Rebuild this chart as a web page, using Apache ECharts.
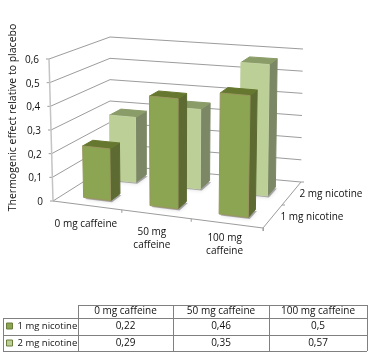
<!DOCTYPE html>
<html>
<head>
<meta charset="utf-8">
<style>
  html, body { margin: 0; padding: 0; background: #fff; }
  #chart { width: 368px; height: 356px; }
</style>
<script src="https://cdn.jsdelivr.net/npm/echarts@6/dist/echarts.min.js"></script>
</head>
<body>
<div id="chart"></div>
<script>
var categories = ['0 mg caffeine', '50 mg caffeine', '100 mg caffeine']
var axisCategories = ['0 mg caffeine', '50 mg\ncaffeine', '100 mg\ncaffeine']
var depthNames = ['1 mg nicotine', '2 mg nicotine']
var nicotine1 = [0.22, 0.46, 0.5]
var nicotine2 = [0.29, 0.35, 0.57]
var yTicks = [0, 0.1, 0.2, 0.3, 0.4, 0.5, 0.6]
var yTitle = 'Thermogenic effect relative to placebo'

var FONT = 'Open Sans'
var FONT_SIZE = 10
var GRID = { left: 53, top: 59, width: 210, height: 142 }
var GRID_COLOR = '#9c9c9c'

// floor corners of the 3d box on screen: front left, front right, back right, back left
var FLOOR = [[53, 201], [263, 228], [301, 182], [110, 165]]
// screen vector of the full value axis at those same corners
var UP = [[-4, -142], [3, -150], [2, -133], [0, -128]]

var STYLES = [
  { front: '#8ca552', side: '#5d6b33', top: '#66782f', edge: '#9a9660' },
  { front: '#bbcf96', side: '#7c8865', top: '#8a9c68', edge: '#c3d2a2' }
]
var V_RANGE = [[0.17, 0.35], [0.65, 0.85]]
var BAR_WIDTH = 0.41 // of the category band

function blend(c, u, v, k) {
  var a = 1 - u
  var b = 1 - v
  return a * b * c[0][k] + u * b * c[1][k] + u * v * c[2][k] + a * v * c[3][k]
}

// u, v on the floor, h = 0..1 up the value axis
function project(u, v, h) {
  // slight perspective along the category direction
  var w = u - 0.06 * u * (1 - u)
  return [
    blend(FLOOR, w, v, 0) + blend(UP, w, v, 0) * h,
    blend(FLOOR, w, v, 1) + blend(UP, w, v, 1) * h
  ]
}

// axis value -> 0..1 height, via the (hidden) cartesian axes
function heightOf(api, val) {
  return (GRID.top + GRID.height - api.coord([0, val])[1]) / GRID.height
}

function poly(points, fill, stroke) {
  return {
    type: 'polygon',
    shape: { points: points },
    style: { fill: fill, stroke: stroke || fill, lineWidth: 1 }
  }
}

function line(a, b, color, width) {
  return {
    type: 'line',
    shape: { x1: a[0], y1: a[1], x2: b[0], y2: b[1] },
    style: { stroke: color || GRID_COLOR, lineWidth: width || 1 }
  }
}

function label(text, p, align, verticalAlign) {
  return {
    type: 'text',
    style: {
      x: p[0], y: p[1], text: text, fill: '#111', font: FONT_SIZE + 'px ' + FONT,
      align: align, verticalAlign: verticalAlign || 'middle', lineHeight: 13
    }
  }
}

function barRenderer(depth) {
  return function(params, api) {
    var c = api.coord([api.value(0), 0])
    var half = api.size([1, 0])[0] / GRID.width * BAR_WIDTH / 2
    var u = (c[0] - GRID.left) / GRID.width
    var h = heightOf(api, api.value(1))
    var u0 = u - half
    var u1 = u + half
    var v0 = V_RANGE[depth][0]
    var v1 = V_RANGE[depth][1]
    var s = STYLES[depth]
    var base = [project(u0, v0, 0), project(u1, v0, 0), project(u1, v1, 0), project(u0, v1, 0)]
    var shadow = poly(base.map(function(p) { return [p[0] + 1.5, p[1] + 1.5] }), 'rgba(0,0,0,0.3)')
    shadow.style.stroke = null
    shadow.style.shadowBlur = 4
    shadow.style.shadowColor = 'rgba(0,0,0,0.45)'
    return {
      type: 'group',
      children: [
        shadow,
        poly([project(u1, v0, 0), project(u1, v1, 0), project(u1, v1, h), project(u1, v0, h)], s.side),
        poly([project(u0, v0, h), project(u1, v0, h), project(u1, v1, h), project(u0, v1, h)], s.top),
        poly([project(u0, v0, 0), project(u1, v0, 0), project(u1, v0, h), project(u0, v0, h)], s.front, s.edge)
      ]
    }
  }
}

// walls: one value gridline per tick, with its label
function renderWall(params, api) {
  var val = api.value(1)
  var h = heightOf(api, val)
  var a = project(0, 0, h)
  var b = project(0, 1, h)
  var c = project(1, 1, h)
  return {
    type: 'group',
    children: [
      line(a, b), line(b, c),
      line(a, [a[0] - 3, a[1]]),
      label(String(val).replace('.', ','), [a[0] - 10, a[1] + 1], 'right')
    ]
  }
}

// floor edges, category ticks and labels
function renderCategory(params, api) {
  var i = api.value(0)
  var u = (api.coord([i, 0])[0] - GRID.left) / GRID.width
  var edge = project(u + 1 / 6, 0, 0)
  var text = project(u, 0, 0)
  return {
    type: 'group',
    children: [
      line(edge, [edge[0], edge[1] + 3]),
      label(axisCategories[i], [text[0] + [-2, -4, -2][i], text[1] + [12, 11, 8][i]], 'center', 'top')
    ]
  }
}

function renderDepth(params, api) {
  var i = api.value(0)
  var tick = project(1, (i + 1) / depthNames.length, 0)
  var text = project(1, (i + 0.5) / depthNames.length, 0)
  return {
    type: 'group',
    children: [
      line(tick, [tick[0] + 3, tick[1]]),
      label(depthNames[i], [text[0] + 8, text[1] + 1], 'left')
    ]
  }
}

function renderFrame() {
  return {
    type: 'group',
    children: [
      line(project(0, 0, 0), project(0, 0, 1), '#c4c4c4', 1.5),
      line(project(0, 0, 0), project(1, 0, 0)),
      line(project(1, 0, 0), project(1, 1, 0)),
      line(project(1, 0, 0), [project(1, 0, 0)[0], project(1, 0, 0)[1] + 3])
    ]
  }
}

function barData(values) {
  return values.map(function(v, i) { return [i, v] })
}

function customSeries(name, data, renderItem, z) {
  return {
    type: 'custom', name: name, data: data, renderItem: renderItem, z: z,
    silent: true, clip: false, animation: false,
    encode: { x: 0, y: 1 }
  }
}

// data table below the chart
var COL_X = [78, 173, 269, 367]
var ROW_Y = [305, 318, 335, 351]
var TABLE_LEFT = 3
var TABLE_LINE = '#808080'

function tableGraphic() {
  var out = []
  function hline(x1, x2, y) {
    out.push({ type: 'line', shape: { x1: x1, y1: y, x2: x2, y2: y }, style: { stroke: TABLE_LINE, lineWidth: 1 } })
  }
  function vline(x, y1, y2) {
    out.push({ type: 'line', shape: { x1: x, y1: y1, x2: x, y2: y2 }, style: { stroke: TABLE_LINE, lineWidth: 1 } })
  }
  function cell(text, col, row) {
    out.push({
      type: 'text',
      style: {
        x: (COL_X[col] + COL_X[col + 1]) / 2, y: (ROW_Y[row] + ROW_Y[row + 1]) / 2,
        text: text, fill: '#111', font: FONT_SIZE + 'px ' + FONT, align: 'center', verticalAlign: 'middle'
      }
    })
  }
  hline(COL_X[0], COL_X[3], ROW_Y[0] + 0.5)
  hline(TABLE_LEFT, COL_X[3], ROW_Y[1] + 0.5)
  hline(TABLE_LEFT, COL_X[3], ROW_Y[2] + 0.5)
  hline(TABLE_LEFT, COL_X[3], ROW_Y[3] + 0.5)
  vline(TABLE_LEFT + 0.5, ROW_Y[1], ROW_Y[3])
  COL_X.forEach(function(x) { vline(x + 0.5, ROW_Y[0], ROW_Y[3]) })
  categories.forEach(function(c, j) {
    cell(c, j, 0)
    cell(String(nicotine1[j]).replace('.', ','), j, 1)
    cell(String(nicotine2[j]).replace('.', ','), j, 2)
  })
  return out
}

var chart = echarts.init(document.getElementById('chart'), null, { renderer: 'canvas' })

chart.setOption({
  animation: false,
  backgroundColor: '#fff',
  textStyle: { fontFamily: FONT },
  grid: GRID,
  xAxis: { type: 'category', data: categories, show: false },
  yAxis: {
    type: 'value', min: 0, max: 0.6, interval: 0.1,
    name: yTitle, nameLocation: 'middle', nameRotate: 90, nameGap: 36,
    nameTextStyle: { fontFamily: FONT, fontSize: 10.5, color: '#111', padding: [0, 0, 0, 25] },
    axisLine: { show: false }, axisTick: { show: false }, axisLabel: { show: false }, splitLine: { show: false }
  },
  legend: {
    orient: 'vertical', left: 6, top: 321, padding: 0, itemWidth: 6, itemHeight: 6, itemGap: 7,
    data: depthNames, selectedMode: false, icon: 'rect',
    textStyle: { fontFamily: FONT, fontSize: 9.5, color: '#111' },
    itemStyle: { borderColor: '#6b7d3a', borderWidth: 1 }
  },
  graphic: tableGraphic(),
  series: [
    customSeries('wall', yTicks.map(function(t) { return [0, t] }), renderWall, 1),
    customSeries('frame', [[0, 0]], renderFrame, 1),
    customSeries('caffeine', categories.map(function(c, i) { return [i, 0] }), renderCategory, 1),
    customSeries('nicotine', depthNames.map(function(c, i) { return [i, 0] }), renderDepth, 1),
    Object.assign(customSeries(depthNames[1], barData(nicotine2), barRenderer(1), 2), { itemStyle: { color: STYLES[1].front } }),
    Object.assign(customSeries(depthNames[0], barData(nicotine1), barRenderer(0), 3), { itemStyle: { color: STYLES[0].front } })
  ]
})
</script>
</body>
</html>
